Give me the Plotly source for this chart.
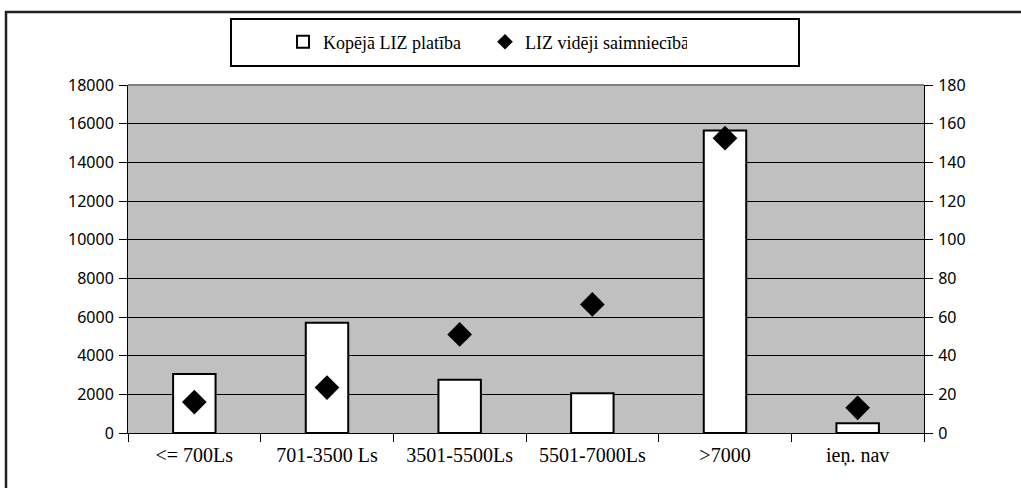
import plotly.graph_objects as go

categories = ["<= 700Ls", "701-3500 Ls", "3501-5500Ls", "5501-7000Ls", ">7000", "ieņ. nav"]
total_area = [3050, 5700, 2750, 2050, 15650, 500]
avg_area = [16, 23.5, 51, 66.5, 152.5, 13]
left_ticks = [0, 2000, 4000, 6000, 8000, 10000, 12000, 14000, 16000, 18000]
right_ticks = [0, 20, 40, 60, 80, 100, 120, 140, 160, 180]

W, H = 1021, 488
L, R, T, B = 128, 97, 85, 55
pw, ph = W - L - R, H - T - B

def px(x):
    return (x - L) / pw

def py(y):
    return 1 - (y - T) / ph

fig = go.Figure()
fig.add_trace(go.Bar(
    x=categories, y=total_area, name="Kopējā LIZ platība",
    width=0.32, marker=dict(color="white", line=dict(color="black", width=2)),
    yaxis="y",
))
fig.add_trace(go.Scatter(
    x=categories, y=avg_area, name="LIZ vidēji saimniecībā", mode="markers",
    marker=dict(symbol="diamond", color="black", size=19),
    yaxis="y2",
))

sans = "Noto Sans, Open Sans, sans-serif"
serif = "'Liberation Serif', 'Times New Roman', Times, 'DejaVu Serif', serif"

fig.update_layout(
    width=W, height=H,
    margin=dict(l=L, r=R, t=T, b=B, pad=0),
    paper_bgcolor="white",
    plot_bgcolor="#C0C0C0",
    showlegend=True,
    legend=dict(
        orientation="h", x=px(283), xanchor="left", y=py(42), yanchor="middle",
        font=dict(family=serif, size=18, color="black"),
        bgcolor="rgba(0,0,0,0)", borderwidth=0, entrywidth=157, itemsizing="constant",
    ),
    xaxis=dict(
        type="category", range=[-0.5, 5.5], tickson="boundaries",
        ticks="outside", ticklen=8, tickcolor="black", tickwidth=1,
        showline=True, linecolor="black", linewidth=1,
        showgrid=False, zeroline=False,
        tickfont=dict(family=serif, size=20, color="black"),
        ticklabelstandoff=4,
    ),
    yaxis=dict(
        range=[0, 18000], tickvals=left_ticks, ticktext=[str(v) for v in left_ticks],
        ticks="outside", ticklen=8, tickcolor="black",
        showline=True, linecolor="black", linewidth=1,
        showgrid=True, gridcolor="black", gridwidth=1, zeroline=False,
        tickfont=dict(family=sans, size=16, color="black"),
        ticklabelstandoff=2,
    ),
    yaxis2=dict(
        range=[0, 180], tickvals=right_ticks, ticktext=[str(v) for v in right_ticks],
        overlaying="y", side="right",
        ticks="outside", ticklen=8, tickcolor="black",
        showline=True, linecolor="black", linewidth=1,
        showgrid=False, zeroline=False,
        tickfont=dict(family=sans, size=16, color="black"),
        ticklabelstandoff=2,
    ),
    shapes=[
        # outer frame (only top and left visible in the crop)
        dict(type="rect", xref="paper", yref="paper",
             x0=px(6), x1=px(W + 20), y0=py(H + 20), y1=py(12),
             line=dict(color="#222222", width=2.5), fillcolor="rgba(0,0,0,0)", layer="above"),
        # legend box
        dict(type="rect", xref="paper", yref="paper",
             x0=px(231), x1=px(799), y0=py(66), y1=py(19),
             line=dict(color="black", width=2), fillcolor="white", layer="below"),
        # top edge of plot area
        dict(type="line", xref="paper", yref="paper", x0=0, x1=1, y0=1, y1=1,
             line=dict(color="#808080", width=2), layer="above"),
    ],
)

fig.write_html(
    "out.html",
    config={"displayModeBar": False},
    post_script="document.body.style.margin='0';document.body.style.overflow='hidden';",
)
